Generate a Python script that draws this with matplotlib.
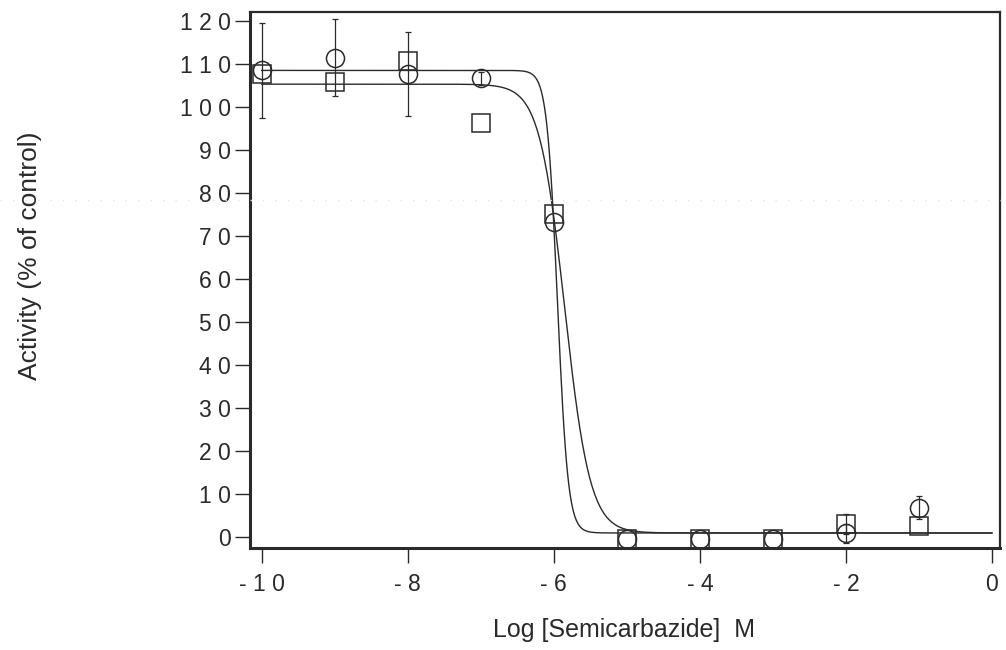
import numpy as np
import matplotlib
matplotlib.use("Agg")
import matplotlib.pyplot as plt
from matplotlib.lines import Line2D

plt.rcParams['font.family'] = ['Liberation Sans', 'DejaVu Sans']

#====================DATA====================

log_conc = [-10, -9, -8, -7, -6, -5, -4, -3, -2, -1]

circle_act = [108.6, 111.6, 107.7, 106.8, 73.3, -0.5, -0.5, -0.5, 0.8, 6.8]
circle_err = [11.0, 9.0, 9.8, 1.5, 0.0, 0.0, 0.0, 0.0, 2.3, 2.7]

square_act = [107.8, 105.9, 110.8, 96.3, 75.1, -0.5, -0.5, -0.5, 3.0, 2.6]
square_err = [0.0, 0.0, 0.0, 0.0, 0.0, 0.0, 0.0, 0.0, 2.4, 0.0]

# fitted sigmoid parameters (top, bottom, logIC50, hill slope)
circle_fit = [108.6, 0.9, -5.95, 6.0]
square_fit = [105.4, 0.9, -5.85, 2.5]

x_ticks = [-10, -8, -6, -4, -2, 0]
x_ticklabels = ['- 1 0', '- 8', '- 6', '- 4', '- 2', '0']
y_ticks = [0, 10, 20, 30, 40, 50, 60, 70, 80, 90, 100, 110, 120]
y_ticklabels = ['0', '1 0', '2 0', '3 0', '4 0', '5 0', '6 0', '7 0', '8 0', '9 0',
                '1 0 0', '1 1 0', '1 2 0']


def sigmoid(x, top, bottom, logic50, hill):
    return bottom + (top - bottom) / (1 + 10 ** ((x - logic50) * hill))


#====================PLOT====================

ink = '#2a2a2a'

fig = plt.figure(figsize=(10.06, 6.5), dpi=100)
ax = fig.add_axes([250 / 1006, 1 - 548 / 650, 750 / 1006, 536 / 650])

xs = np.linspace(-10, 0, 600)
ax.plot(xs, sigmoid(xs, *circle_fit), color=ink, lw=1.0)
ax.plot(xs, sigmoid(xs, *square_fit), color=ink, lw=1.0)

for act, err, mk in [(circle_act, circle_err, 'o'), (square_act, square_err, 's')]:
    act = np.array(act)
    err = np.array(err)
    x = np.array(log_conc)
    has_err = err > 0
    ax.errorbar(x[has_err], act[has_err], yerr=err[has_err], fmt='none', ecolor=ink,
                elinewidth=0.9, capsize=2.2, capthick=0.9)
    ax.plot(x, act, mk, ms=13, mfc='none', mec=ink, mew=1.1)

ax.set_xlim(-10.16, 0.11)
ax.set_ylim(-2.6, 122.2)
ax.set_xticks(x_ticks)
ax.set_xticklabels(x_ticklabels)
ax.set_yticks(y_ticks)
ax.set_yticklabels(y_ticklabels)
ax.tick_params(axis='both', direction='out', length=11, width=1.0, color=ink,
               labelcolor=ink, labelsize=16.5)
ax.tick_params(axis='x', pad=7)
ax.tick_params(axis='y', pad=3)

for side in ['left', 'bottom']:
    ax.spines[side].set_linewidth(2.2)
for side in ['top', 'right']:
    ax.spines[side].set_linewidth(1.6)
for sp in ax.spines.values():
    sp.set_color(ink)

fig.text(624 / 1006, 1 - 630 / 650, 'Log [Semicarbazide]  M', ha='center', va='center',
         fontsize=18, color=ink)
fig.text(30 / 1006, 1 - 256 / 650, 'Activity (% of control)', ha='center', va='center',
         rotation=90, fontsize=19, color=ink)

# faint scan streak across the page
fig.add_artist(Line2D([0, 1], [1 - 200 / 650, 1 - 200 / 650], transform=fig.transFigure,
                      color='#e2e2e2', lw=1.0, ls=(0, (1, 8))))

fig.savefig('out.png', dpi=100)
